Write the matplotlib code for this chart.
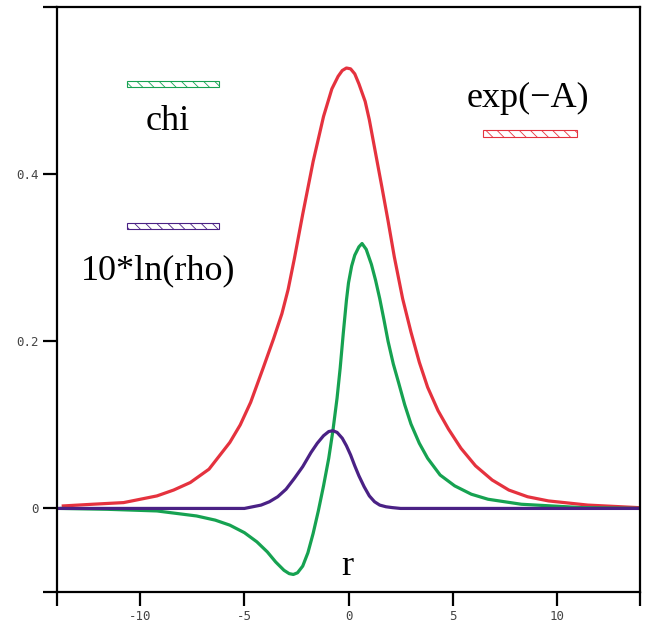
import numpy as np
import matplotlib
matplotlib.use('Agg')
import matplotlib.pyplot as plt
from matplotlib.patches import Rectangle

# values
r_expA = [-13.7, -12.3, -10.8, -9.2, -8.4, -7.6, -6.7, -5.7, -5.2, -4.7, -4.1, -3.6, -3.2,
          -2.9, -2.6, -2.2, -1.7, -1.2, -0.8, -0.5, -0.3, -0.1, 0.1, 0.3, 0.5, 0.8, 1.0, 1.3,
          1.6, 1.9, 2.2, 2.6, 3.0, 3.4, 3.8, 4.3, 4.8, 5.4, 6.1, 6.9, 7.7, 8.6, 9.6, 11.5, 13.9]
expA = [0.003, 0.005, 0.007, 0.015, 0.022, 0.031, 0.047, 0.079, 0.100, 0.127, 0.168, 0.203, 0.233,
        0.262, 0.299, 0.352, 0.415, 0.469, 0.502, 0.517, 0.524, 0.527, 0.526, 0.520, 0.508, 0.487, 0.465, 0.425,
        0.385, 0.344, 0.301, 0.251, 0.211, 0.175, 0.145, 0.117, 0.095, 0.072, 0.051, 0.034, 0.022, 0.014, 0.009, 0.004, 0.001]

r_chi = [-13.8, -11.6, -9.2, -7.3, -6.4, -5.7, -5.0, -4.4, -3.9, -3.5, -3.1, -2.85, -2.65, -2.45,
         -2.2, -1.95, -1.7, -1.45, -1.2, -0.95, -0.75, -0.55, -0.4, -0.25, -0.1, 0.0, 0.15, 0.3, 0.5,
         0.65, 0.85, 1.1, 1.3, 1.5, 1.7, 1.9, 2.15, 2.4, 2.7, 3.0, 3.4, 3.8, 4.4, 5.1, 5.9, 6.7,
         8.3, 11.2, 14.0]
chi = [0.0, -0.001, -0.003, -0.009, -0.014, -0.020, -0.029, -0.040, -0.052, -0.064, -0.074, -0.078, -0.079, -0.077,
       -0.069, -0.053, -0.030, -0.003, 0.027, 0.060, 0.093, 0.132, 0.168, 0.210, 0.249, 0.270, 0.290, 0.303, 0.313,
       0.317, 0.310, 0.292, 0.273, 0.251, 0.226, 0.200, 0.173, 0.151, 0.124, 0.101, 0.078, 0.060, 0.040, 0.027, 0.017, 0.011,
       0.005, 0.001, 0.0]

r_rho = [-14.0, -5.0, -4.6, -4.2, -3.8, -3.4, -3.0, -2.6, -2.2, -1.8, -1.5, -1.2, -0.95, -0.75,
         -0.55, -0.3, -0.1, 0.1, 0.3, 0.5, 0.75, 1.0, 1.25, 1.5, 1.8, 2.1, 2.5, 14.0]
rho10 = [0.0, 0.0, 0.002, 0.004, 0.008, 0.014, 0.023, 0.036, 0.050, 0.067, 0.078, 0.087, 0.092, 0.093,
         0.091, 0.084, 0.075, 0.064, 0.051, 0.039, 0.026, 0.015, 0.008, 0.004, 0.002, 0.001, 0.0, 0.0]

xticks = [-14, -10, -5, 0, 5, 10, 14]
xlabels = ['', '-10', '-5', '0', '5', '10', '']
yticks = [-0.1, 0, 0.2, 0.4, 0.6]
ylabels = ['', '0', '0.2', '0.4', '']

red = '#e5323e'
green = '#16a251'
purple = '#4a2185'

fig = plt.figure(figsize=(6.51, 6.30), dpi=100)
ax = fig.add_axes([0.0876, 0.0603, 0.8955, 0.9286])

ax.plot(r_expA, expA, color=red, lw=2.3, solid_joinstyle='round')
ax.plot(r_chi, chi, color=green, lw=2.3, solid_joinstyle='round')
ax.plot(r_rho, rho10, color=purple, lw=2.3, solid_joinstyle='round')

ax.set_xlim(-14, 14)
ax.set_ylim(-0.1, 0.6)
ax.set_xticks(xticks)
ax.set_xticklabels(xlabels)
ax.set_yticks(yticks)
ax.set_yticklabels(ylabels)

for s in ax.spines.values():
    s.set_linewidth(1.6)
ax.tick_params(direction='out', length=10, width=1.6, pad=3, labelsize=9,
               labelcolor='#444444')
for lab in ax.get_xticklabels() + ax.get_yticklabels():
    lab.set_family('DejaVu Sans Mono')

# legend swatches and names
plt.rcParams['hatch.linewidth'] = 0.6
ax.add_patch(Rectangle((-10.66, 0.5037), 4.46, 0.008, facecolor='white',
                       edgecolor=green, hatch='\\\\\\', lw=0.8))
ax.add_patch(Rectangle((-10.66, 0.334), 4.46, 0.008, facecolor='white',
                       edgecolor=purple, hatch='\\\\\\', lw=0.8))
ax.add_patch(Rectangle((6.48, 0.4448), 4.49, 0.008, facecolor='white',
                       edgecolor=red, hatch='\\\\\\', lw=0.8))

tfont = dict(family='Liberation Serif', fontsize=26, ha='center', va='baseline')
ax.text(-8.69, 0.4529, 'chi', **tfont)
ax.text(8.6, 0.4808, 'exp(\u2212A)', **tfont)
ax.text(-9.15, 0.2739, '10*ln(rho)', **tfont)
ax.text(-0.07, -0.0793, 'r', **tfont)

fig.savefig('out.png', dpi=100)
